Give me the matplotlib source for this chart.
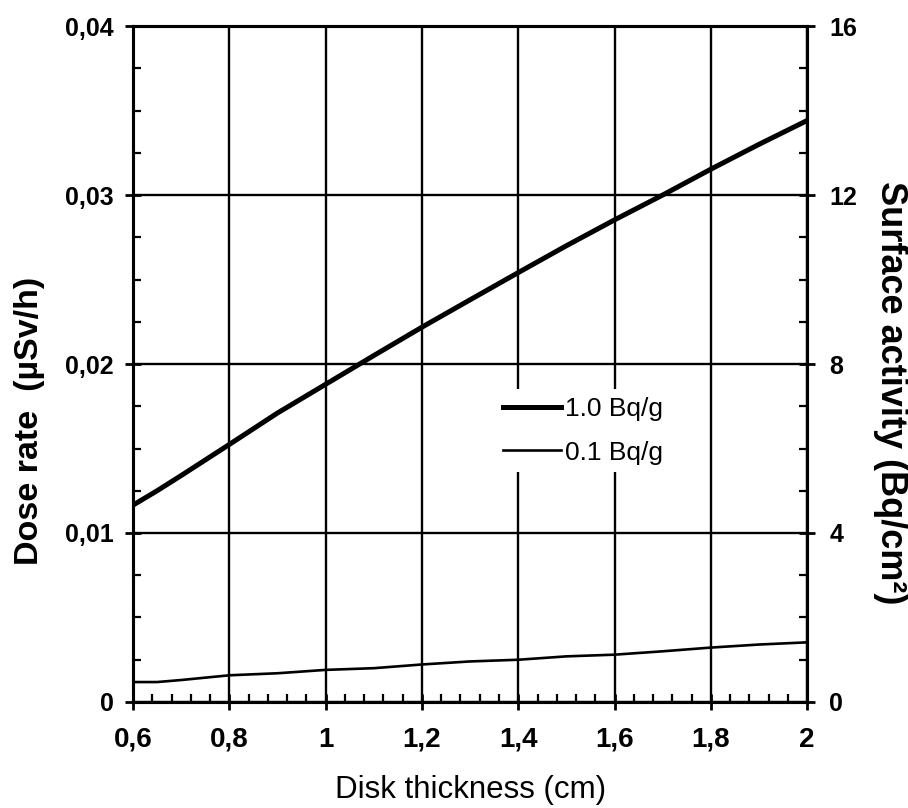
import matplotlib
matplotlib.use('Agg')
import matplotlib.pyplot as plt
from matplotlib.ticker import MultipleLocator

# thickness of the disk (cm)
thickness = [0.6, 0.65, 0.7, 0.8, 0.9, 1.0, 1.1, 1.2, 1.3, 1.4, 1.5, 1.6, 1.7, 1.8, 1.9, 2.0]
# dose rate (uSv/h)
dose_1bq = [0.01165, 0.0125, 0.0134, 0.01524, 0.0171, 0.0188, 0.0205, 0.02218, 0.0238,
            0.02541, 0.0270, 0.02853, 0.0300, 0.03153, 0.0330, 0.03441]
dose_01bq = [0.00118, 0.00118, 0.0013, 0.00158, 0.0017, 0.0019, 0.0020, 0.00222, 0.0024,
             0.0025, 0.0027, 0.0028, 0.0030, 0.00322, 0.0034, 0.00353]

x_ticks = [0.6, 0.8, 1.0, 1.2, 1.4, 1.6, 1.8, 2.0]
x_labels = ['0,6', '0,8', '1', '1,2', '1,4', '1,6', '1,8', '2']
y_ticks = [0, 0.01, 0.02, 0.03, 0.04]
y_labels = ['0', '0,01', '0,02', '0,03', '0,04']
y2_ticks = [0, 4, 8, 12, 16]
y2_labels = ['0', '4', '8', '12', '16']

plt.rcParams['font.family'] = ['Liberation Sans', 'DejaVu Sans']

fig = plt.figure(figsize=(9.08, 8.08), dpi=100)
ax = fig.add_axes([0.1465, 0.1312, 0.7425, 0.8366])

ax.plot(thickness, dose_1bq, color='black', lw=3.6, label='1.0 Bq/g', zorder=3)
ax.plot(thickness, dose_01bq, color='black', lw=1.9, label='0.1 Bq/g', zorder=3)

ax.set_xlim(0.6, 2.0)
ax.set_ylim(0, 0.04)
ax.set_xticks(x_ticks)
ax.set_xticklabels(x_labels, fontsize=20, fontweight='bold')
ax.set_yticks(y_ticks)
ax.set_yticklabels(y_labels, fontsize=18, fontweight='bold')
ax.xaxis.set_minor_locator(MultipleLocator(0.04))
ax.yaxis.set_minor_locator(MultipleLocator(0.0025))
ax.tick_params(which='major', direction='inout', length=12, width=2)
ax.tick_params(axis='x', which='major', pad=12)
ax.tick_params(axis='y', which='major', pad=8)
ax.tick_params(which='minor', direction='in', length=6, width=1.6)
ax.grid(which='major', color='black', lw=1.7)
for s in ax.spines.values():
    s.set_linewidth(2.2)

ax.set_xlabel('Disk thickness (cm)', fontsize=22.5, labelpad=16)
ax.set_ylabel('Dose rate  (\u00b5Sv/h)', fontsize=24.5, fontweight='bold',
              va='center', ha='center')
ax.yaxis.set_label_coords(-0.153, 0.416)

ax2 = ax.twinx()
ax2.set_ylim(0, 16)
ax2.set_yticks(y2_ticks)
ax2.set_yticklabels(y2_labels, fontsize=18, fontweight='bold')
ax2.yaxis.set_minor_locator(MultipleLocator(1))
ax2.tick_params(which='major', direction='inout', length=12, width=2, pad=10)
ax2.tick_params(which='minor', direction='in', length=6, width=1.6)
for s in ax2.spines.values():
    s.set_linewidth(2.2)
ax2.set_ylabel('Surface activity (Bq/cm\u00b2)', fontsize=26, fontweight='bold',
               rotation=270, va='center', ha='center')
ax2.yaxis.set_label_coords(1.123, 0.458)

leg = ax2.legend(*ax.get_legend_handles_labels(), loc='center',
                 bbox_to_anchor=(0.642, 0.467), bbox_transform=fig.transFigure,
                 fontsize=19, frameon=True, facecolor='white', edgecolor='none',
                 framealpha=1, handlelength=2.2, handletextpad=0.15,
                 labelspacing=0.75, borderpad=0.3, fancybox=False)

fig.savefig('out.png', dpi=100)
